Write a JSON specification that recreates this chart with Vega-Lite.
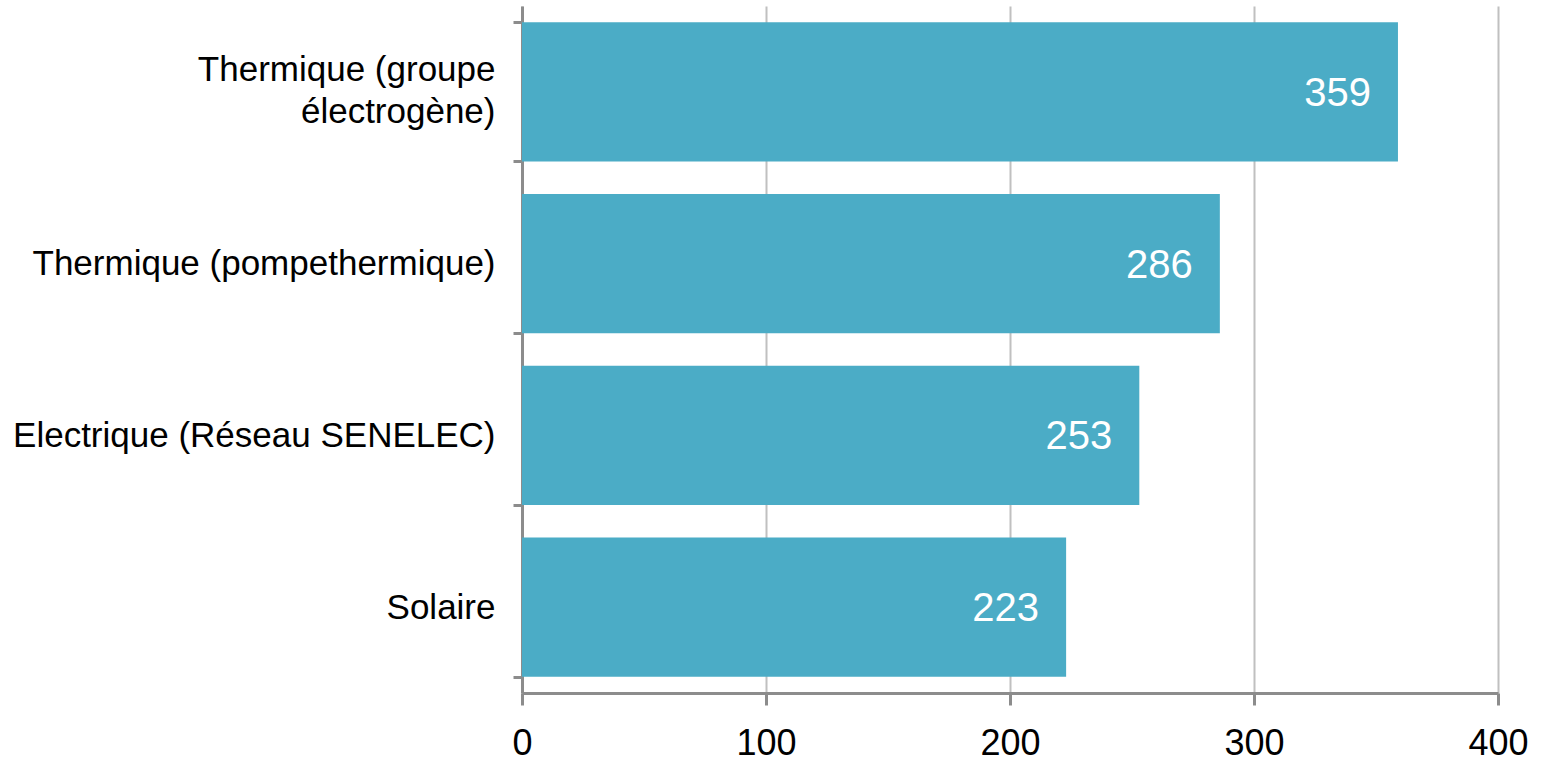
{
  "$schema": "https://vega.github.io/schema/vega-lite/v6.json",
  "autosize": "none",
  "width": 976,
  "height": 687,
  "padding": {"left": 522, "top": 6, "right": 50, "bottom": 72},
  "background": "white",
  "config": {
    "view": {"stroke": null},
    "font": "Liberation Sans"
  },
  "data": {
    "values": [
      {"source": "Thermique (groupe|électrogène)", "value": 359},
      {"source": "Thermique (pompethermique)", "value": 286},
      {"source": "Electrique (Réseau SENELEC)", "value": 253},
      {"source": "Solaire", "value": 223}
    ]
  },
  "encoding": {
    "y": {
      "field": "source",
      "type": "nominal",
      "sort": null,
      "scale": {"paddingInner": 0.19, "paddingOuter": 0.095},
      "axis": {
        "title": null,
        "labelExpr": "split(datum.label, '|')",
        "labelFontSize": 35,
        "labelColor": "black",
        "labelLineHeight": 42,
        "labelPadding": 18,
        "labelLimit": 600,
        "labelBaseline": {"condition": {"test": "datum.value == 'Thermique (groupe|électrogène)'", "value": "line-bottom"}, "value": "middle"},
        "domainColor": "#8c8c8c",
        "domainWidth": 3,
        "tickColor": "#8c8c8c",
        "tickWidth": 3,
        "tickSize": 9,
        "tickBand": "extent",
        "grid": false
      }
    }
  },
  "layer": [
    {
      "mark": {"type": "bar", "color": "#4bacc6"},
      "encoding": {
        "x": {
          "field": "value",
          "type": "quantitative",
          "scale": {"domain": [0, 400], "nice": false},
          "axis": {
            "title": null,
            "values": [0, 100, 200, 300, 400],
            "labelFontSize": 36,
            "labelColor": "black",
            "labelPadding": 21,
            "labelFlush": false,
            "domainColor": "#8c8c8c",
            "domainWidth": 3,
            "tickColor": "#8c8c8c",
            "tickWidth": 3,
            "tickSize": 12,
            "grid": true,
            "gridColor": "#c0c0c0",
            "gridWidth": 2
          }
        }
      }
    },
    {
      "mark": {"type": "text", "color": "white", "fontSize": 40, "align": "right", "baseline": "middle", "dx": -27, "dy": 2},
      "encoding": {
        "x": {"field": "value", "type": "quantitative"},
        "text": {"field": "value", "type": "quantitative"}
      }
    }
  ]
}
